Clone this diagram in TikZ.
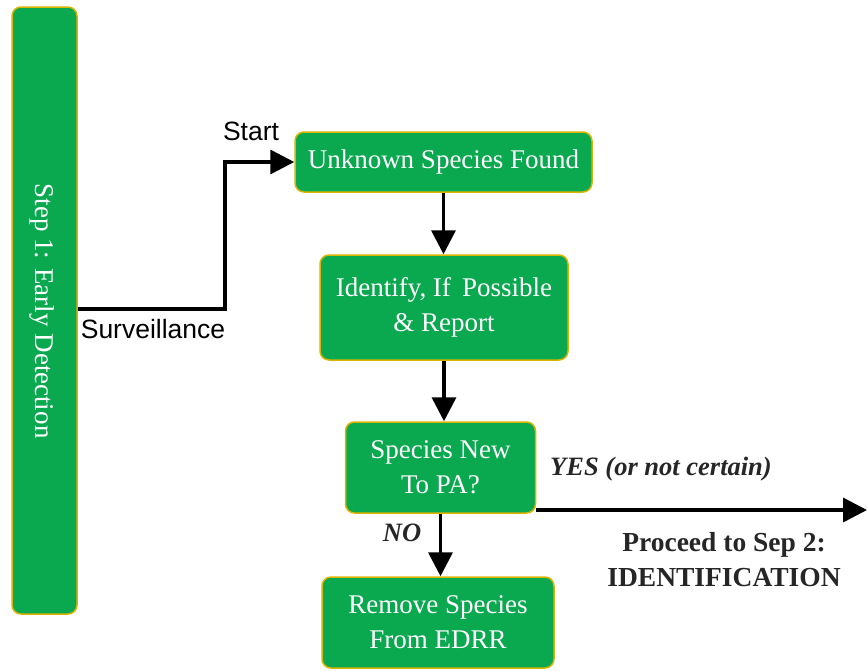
\documentclass[tikz,border=0pt]{standalone}
\usepackage{fontspec}
\setmainfont{Liberation Serif}
\newfontfamily\sansf{Liberation Sans}
\usetikzlibrary{arrows.meta,calc}
\definecolor{boxgreen}{HTML}{0AA84F}
\definecolor{boxedge}{HTML}{D9B400}
\begin{document}
\begin{tikzpicture}[x=1pt,y=-1pt,
  gbox/.style={draw=boxedge,line width=1.5pt,fill=boxgreen,rounded corners=9pt,
    text=white,align=center,font=\fontsize{27}{35}\selectfont,inner sep=0pt},
  conn/.style={line width=3.5pt,-{Triangle[length=24pt,width=24pt]}},
  slabel/.style={font=\sansf\fontsize{26.5}{28}\selectfont,inner sep=0pt},
  blabel/.style={font=\bfseries\fontsize{27.5}{35}\selectfont,align=center,inner sep=0pt,text=black!85},
  ilabel/.style={font=\bfseries\itshape\fontsize{26.5}{30}\selectfont,inner sep=0pt,text=black!85}]
\useasboundingbox (0,0) rectangle (867,670);
\node[gbox,minimum width=65pt,minimum height=607pt] (bar) at (44.5,310.5) {};
\node[text=white,font=\fontsize{27}{30}\selectfont,rotate=-90,inner sep=0pt] (bartext) at (42,311) {Step 1: Early Detection};
\node[gbox,minimum width=297pt,minimum height=60pt] (box1) at (443.5,162) {Unknown Species Found};
\node[gbox,minimum width=248pt,minimum height=105pt] (box2) at (444,307.5) {Identify, If\, Possible\\\& Report};
\node[gbox,minimum width=190pt,minimum height=91pt] (box3) at (440.5,467.5) {Species New\\To PA?};
\node[gbox,minimum width=232pt,minimum height=91pt] (box4) at (438,622.5) {Remove Species\\From EDRR};
\coordinate (survpt) at (77,309);
\coordinate (corner) at (225,309);
\coordinate (yesend) at (867,510);
\draw[conn] (bar.east |- survpt) -- (corner) |- (box1.west);
\draw[conn] (box1.south) -- (box1.south |- box2.north);
\draw[conn] (box2.south) -- (box2.south |- box3.north);
\draw[conn] (box3.south) -- (box3.south |- box4.north);
\draw[conn] (box3.east |- yesend) -- (yesend);
\node[slabel] (start) at (251,131) {Start};
\node[slabel] (surv) at (153,329) {Surveillance};
\node[ilabel] (yes) at (661,469) {YES (or not certain)};
\node[ilabel] (no) at (402,533) {NO};
\node[blabel] (proceed) at (724,560) {Proceed to Sep 2:\\IDENTIFICATION};
\end{tikzpicture}
\end{document}
